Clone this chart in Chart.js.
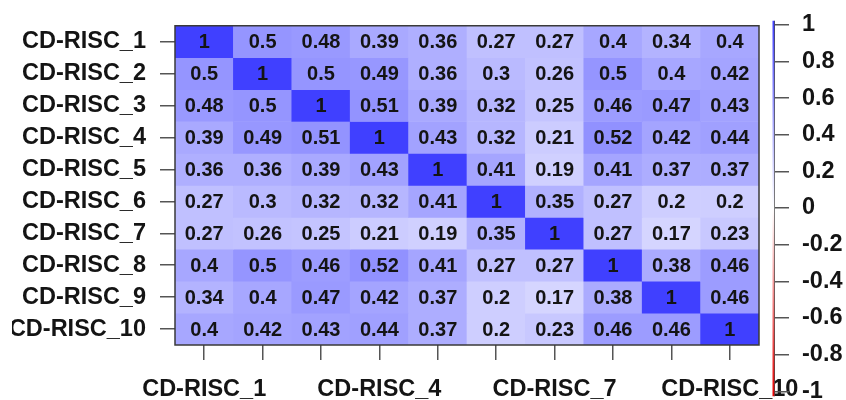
<!DOCTYPE html>
<html>
<head>
<meta charset="utf-8">
<script src="https://cdn.jsdelivr.net/npm/chart.js@4/dist/chart.umd.min.js"></script>
<style>
  html, body { margin: 0; padding: 0; background: #ffffff; overflow: hidden; width: 846px; height: 400px; }
  #main { position: absolute; left: 0; top: 0; }
  #cbar { position: absolute; left: 700px; top: 0px; }
</style>
</head>
<body>
<canvas id="main" width="846" height="400"></canvas>
<canvas id="cbar" width="146" height="416"></canvas>
<script>
// ---- data ----
const rowNames = ['CD-RISC_1','CD-RISC_2','CD-RISC_3','CD-RISC_4','CD-RISC_5','CD-RISC_6','CD-RISC_7','CD-RISC_8','CD-RISC_9','CD-RISC_10'];
const colNames = ['CD-RISC_1','CD-RISC_2','CD-RISC_3','CD-RISC_4','CD-RISC_5','CD-RISC_6','CD-RISC_7','CD-RISC_8','CD-RISC_9','CD-RISC_10'];
const xShownLabels = ['CD-RISC_1','CD-RISC_4','CD-RISC_7','CD-RISC_10'];
const row1  = [1, 0.5, 0.48, 0.39, 0.36, 0.27, 0.27, 0.4, 0.34, 0.4];
const row2  = [0.5, 1, 0.5, 0.49, 0.36, 0.3, 0.26, 0.5, 0.4, 0.42];
const row3  = [0.48, 0.5, 1, 0.51, 0.39, 0.32, 0.25, 0.46, 0.47, 0.43];
const row4  = [0.39, 0.49, 0.51, 1, 0.43, 0.32, 0.21, 0.52, 0.42, 0.44];
const row5  = [0.36, 0.36, 0.39, 0.43, 1, 0.41, 0.19, 0.41, 0.37, 0.37];
const row6  = [0.27, 0.3, 0.32, 0.32, 0.41, 1, 0.35, 0.27, 0.2, 0.2];
const row7  = [0.27, 0.26, 0.25, 0.21, 0.19, 0.35, 1, 0.27, 0.17, 0.23];
const row8  = [0.4, 0.5, 0.46, 0.52, 0.41, 0.27, 0.27, 1, 0.38, 0.46];
const row9  = [0.34, 0.4, 0.47, 0.42, 0.37, 0.2, 0.17, 0.38, 1, 0.46];
const row10 = [0.4, 0.42, 0.43, 0.44, 0.37, 0.2, 0.23, 0.46, 0.46, 1];
const matrix = [row1, row2, row3, row4, row5, row6, row7, row8, row9, row10];
const colorbarTicks = [1, 0.8, 0.6, 0.4, 0.2, 0, -0.2, -0.4, -0.6, -0.8, -1];

// ---- style ----
const FONT = "'Liberation Sans', Arial, sans-serif";
const TEXT = '#141414';
function cellColor(v) {
  const t = Math.pow(Math.abs(v), 0.85);
  const c = Math.round(255 - t * (255 - 64));
  return v >= 0 ? `rgb(${c},${c},255)` : `rgb(255,${c},${c})`;
}

const datasets = matrix.map((row, r) => ({
  label: rowNames[r],
  data: row.map(() => [r + 0.5, r + 1.5]),
  backgroundColor: row.map(v => cellColor(v)),
  borderWidth: 0,
  borderSkipped: false,
  barPercentage: 1,
  categoryPercentage: 1,
  grouped: false
}));

const cellText = {
  id: 'cellText',
  afterDatasetsDraw(chart) {
    const ctx = chart.ctx;
    ctx.save();
    ctx.font = `bold 20px ${FONT}`;
    ctx.fillStyle = TEXT;
    ctx.textAlign = 'center';
    ctx.textBaseline = 'middle';
    chart.data.datasets.forEach((ds, r) => {
      const meta = chart.getDatasetMeta(r);
      meta.data.forEach((el, c) => {
        const p = el.getCenterPoint();
        ctx.fillText(String(matrix[r][c]), p.x, p.y + 1);
      });
    });
    const a = chart.chartArea;
    ctx.strokeStyle = '#3a3a3a';
    ctx.lineWidth = 1.5;
    ctx.strokeRect(a.left, a.top, a.right - a.left, a.bottom - a.top);
    ctx.restore();
  }
};

new Chart(document.getElementById('main'), {
  type: 'bar',
  data: { labels: colNames, datasets },
  options: {
    responsive: false,
    animation: false,
    layout: { padding: { left: 12, right: 87, top: 17, bottom: 0 } },
    plugins: { legend: { display: false }, tooltip: { enabled: false } },
    scales: {
      x: {
        type: 'category',
        offset: true,
        afterFit: s => { s.height = 55; },
        grid: { offset: false, drawOnChartArea: false, drawTicks: true, tickLength: 15, color: '#555', lineWidth: 1.5 },
        border: { display: false },
        ticks: {
          autoSkip: false, maxRotation: 0, minRotation: 0, padding: 18,
          color: TEXT, font: { family: FONT, size: 23.5, weight: 'bold', lineHeight: 1 },
          callback: (v, i) => xShownLabels.includes(colNames[i]) ? colNames[i] : ''
        }
      },
      y: {
        type: 'linear',
        reverse: true,
        min: 0.5, max: 10.5,
        afterFit: s => { s.width = 163; },
        afterBuildTicks: s => { s.ticks = rowNames.map((_, i) => ({ value: i + 1 })); },
        grid: { drawOnChartArea: false, drawTicks: true, tickLength: 15, color: '#555', lineWidth: 1.5 },
        border: { display: false },
        ticks: {
          padding: 14, color: TEXT, font: { family: FONT, size: 23.5, weight: 'bold', lineHeight: 1 },
          callback: v => rowNames[Math.round(v) - 1]
        }
      }
    }
  },
  plugins: [cellText]
});

// ---- colour bar ----
const colorLine = {
  id: 'colorLine',
  afterDraw(chart) {
    const s = chart.scales.y;
    const ctx = chart.ctx;
    const x = chart.chartArea.right;
    const y1 = s.getPixelForValue(1) - 4, y2 = s.getPixelForValue(-1) + 5;
    const g = ctx.createLinearGradient(0, y1, 0, y2);
    g.addColorStop(0, 'rgb(64,64,255)');
    g.addColorStop(0.5, '#ffffff');
    g.addColorStop(1, 'rgb(230,0,0)');
    ctx.save();
    ctx.strokeStyle = '#444';
    ctx.lineWidth = 1;
    ctx.beginPath(); ctx.moveTo(x + 0.5, y1); ctx.lineTo(x + 0.5, y2); ctx.stroke();
    ctx.fillStyle = g;
    ctx.fillRect(x - 1.5, y1, 1.8, y2 - y1);
    ctx.restore();
  }
};

new Chart(document.getElementById('cbar'), {
  type: 'scatter',
  data: { datasets: [{ data: [] }] },
  options: {
    responsive: false,
    animation: false,
    layout: { padding: 0 },
    plugins: { legend: { display: false }, tooltip: { enabled: false } },
    scales: {
      x: { display: false, min: 0, max: 1 },
      y: {
        type: 'linear', position: 'right', min: -1, max: 1,
        afterFit: s => { s.width = 72; },
        afterBuildTicks: s => { s.ticks = colorbarTicks.map(v => ({ value: v })); },
        grid: { drawOnChartArea: false, drawTicks: true, tickLength: 15, color: '#555', lineWidth: 1.5 },
        border: { display: false },
        ticks: {
          padding: 13, color: TEXT, font: { family: FONT, size: 23.5, weight: 'bold', lineHeight: 1 },
          callback: v => String(Math.round(v * 10) / 10)
        }
      }
    }
  },
  plugins: [colorLine]
});
</script>
</body>
</html>
